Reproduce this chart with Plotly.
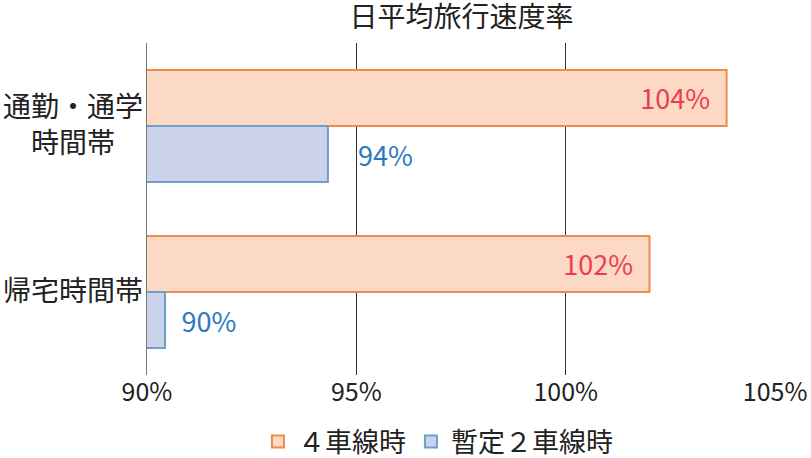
import plotly.graph_objects as go

# 日平均旅行速度率 (%)
categories = ["通勤・通学<br>時間帯", "帰宅時間帯"]
four_lane = [103.84, 102.0]
two_lane = [94.32, 90.43]
series_names = ["４車線時", "暫定２車線時"]
tick_vals = [90, 95, 100, 105]
tick_text = ["90%", "95%", "100%", "105%"]

FONT = "Noto Sans CJK JP"

fig = go.Figure()
fig.add_trace(go.Bar(
    y=categories, x=four_lane, name=series_names[0], orientation="h",
    marker=dict(color="#FBD9C5", line=dict(color="#EE8A4E", width=2)),
    texttemplate="%{x:.0f}%\u2002", textposition="inside", insidetextanchor="end",
    textfont=dict(color="#EC3D4E", size=27, family=FONT),
))
fig.add_trace(go.Bar(
    y=categories, x=two_lane, name=series_names[1], orientation="h",
    marker=dict(color="#CAD3EB", line=dict(color="#6E9FCB", width=2)),
    texttemplate=["\u3000%{x:.0f}%", "\u2002%{x:.0f}%"], textposition="outside",
    textfont=dict(color="#2E78C0", size=27, family=FONT),
))

# category labels, lines centred
for c in categories:
    fig.add_annotation(x=0, xref="paper", xanchor="right", xshift=-2, yshift=3,
                       y=c, yref="y", text=c, showarrow=False, align="center",
                       font=dict(size=28, color="#222", family=FONT))

fig.update_layout(
    width=811, height=458,
    margin=dict(l=147, r=35, t=43, b=83, autoexpand=False),
    paper_bgcolor="white", plot_bgcolor="white",
    barmode="group", bargap=0.325, bargroupgap=0,
    font=dict(family=FONT, size=25, color="#222"),
    title=dict(text="日平均旅行速度率", x=0.569, xanchor="center", y=0.962, yanchor="middle",
               font=dict(size=28, color="#222", family=FONT)),
    xaxis=dict(range=[90, 105.02], tickmode="array", tickvals=tick_vals, ticktext=tick_text,
               showgrid=True, gridcolor="#333", gridwidth=1, zeroline=False, showline=False,
               tickfont=dict(size=25, color="#222")),
    yaxis=dict(autorange="reversed", showticklabels=False, showgrid=False,
               showline=True, linecolor="#777", linewidth=1, zeroline=False),
    legend=dict(orientation="h", xref="container", yref="container",
                x=0.54, xanchor="center", y=0.035, yanchor="middle",
                font=dict(size=27, color="#222"), itemwidth=30),
    showlegend=True,
)

fig.write_html("out.html", config={"displayModeBar": False},
               post_script="document.body.style.margin='0';")
